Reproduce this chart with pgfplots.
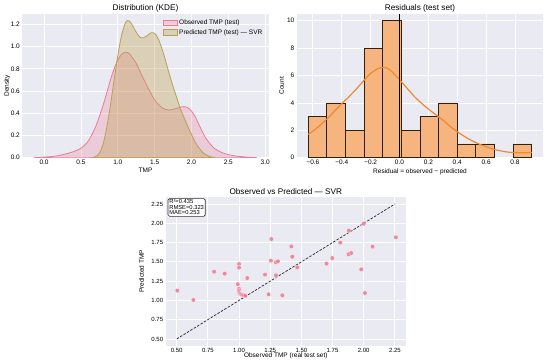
\documentclass[border=0pt]{standalone}
\usepackage{pgfplots}
\pgfplotsset{compat=1.18}
\usepackage{fontspec}
\setmainfont{Liberation Sans}
\definecolor{bg}{HTML}{EAEAF2}
\definecolor{obs}{HTML}{EC7B96}
\definecolor{pred}{HTML}{B8A055}
\definecolor{predfill}{HTML}{BFA24A}
\definecolor{barfill}{HTML}{F6B47E}
\definecolor{kdeor}{HTML}{EF8A30}
\definecolor{pk}{HTML}{EE7890}
\pgfplotsset{
  sb/.style={
    scale only axis,
    axis background/.style={fill=bg},
    axis line style={draw=none},
    grid=major,
    grid style={white, line width=0.8pt},
    major tick length=0pt,
    tick style={draw=none},
    /pgf/number format/assume math mode=true,
    ticklabel style={font=\fontsize{6.5}{7}\selectfont},
    xticklabel style={anchor=base, yshift=-7.3pt, inner sep=0pt},
    yticklabel style={anchor=east, xshift=-2.5pt, inner sep=0pt},
    every axis title/.style={at={(axis description cs:0.5,1)}, anchor=base, yshift=3.8pt, inner sep=0pt, font=\fontsize{8.2}{9}\selectfont},
  }
}
\begin{document}
\begin{tikzpicture}
\path[use as bounding box] (0pt,0pt) rectangle (550pt,-363pt);

% ---------- Top left: KDE ----------
\begin{axis}[sb,
  at={(22.5pt,-157.7pt)}, anchor=south west,
  width=246pt, height=143.7pt,
  xmin=-0.293, xmax=3.045, ymin=0, ymax=1.294,
  xtick={0,0.5,1,1.5,2,2.5,3}, xticklabels={0.0,0.5,1.0,1.5,2.0,2.5,3.0},
  ytick={0,0.2,0.4,0.6,0.8,1.0,1.2}, yticklabels={0.0,0.2,0.4,0.6,0.8,1.0,1.2},
  title={Distribution (KDE)},
  xlabel={TMP}, ylabel={Density},
  every axis x label/.style={at={(axis description cs:0.5,0)}, anchor=base, yshift=-15.3pt, inner sep=0pt, font=\fontsize{6.5}{7}\selectfont},
  every axis y label/.style={at={(axis description cs:-0.055,0.5)}, rotate=90, anchor=base, inner sep=0pt, font=\fontsize{6.5}{7}\selectfont},
  legend style={at={(0.572,0.967)}, anchor=north west, draw=none, fill=none, inner sep=0pt,
    row sep=1.2pt, font=\fontsize{6.5}{7}\selectfont, nodes={inner sep=1pt}},
  legend image code/.code={\draw[#1] (0pt,-2.6pt) rectangle (14pt,2.6pt);},
  legend cell align=left,
]
\addplot[draw=obs, line width=0.8pt, fill=obs, fill opacity=0.28, smooth, tension=0.4] coordinates {
(-0.14,0) (-0.05,0.003) (0.0,0.005) (0.1,0.01) (0.2,0.02) (0.3,0.035) (0.4,0.055) (0.5,0.085)
(0.6,0.15) (0.7,0.28) (0.8,0.47) (0.9,0.70) (0.95,0.80) (1.0,0.88) (1.05,0.93) (1.1,0.95)
(1.15,0.94) (1.2,0.90) (1.25,0.85) (1.3,0.78) (1.35,0.71) (1.4,0.64) (1.45,0.58) (1.5,0.52)
(1.55,0.48) (1.6,0.45) (1.65,0.435) (1.7,0.43) (1.75,0.435) (1.8,0.445) (1.85,0.455) (1.9,0.46)
(1.95,0.45) (2.0,0.42) (2.05,0.37) (2.1,0.30) (2.15,0.23) (2.2,0.17) (2.3,0.09) (2.4,0.05)
(2.5,0.028) (2.6,0.015) (2.7,0.008) (2.8,0.003) (2.89,0)
} \closedcycle;
\addlegendentry{Observed TMP (test)}
\addplot[draw=pred, line width=0.8pt, fill=predfill, fill opacity=0.35, smooth, tension=0.4] coordinates {
(0.65,0) (0.7,0.01) (0.75,0.04) (0.8,0.12) (0.85,0.27) (0.9,0.47) (0.95,0.70) (1.0,0.92)
(1.05,1.10) (1.1,1.21) (1.13,1.235) (1.16,1.23) (1.2,1.19) (1.25,1.13) (1.3,1.085) (1.35,1.08)
(1.4,1.10) (1.45,1.125) (1.5,1.12) (1.55,1.07) (1.6,0.98) (1.65,0.87) (1.7,0.75) (1.75,0.64)
(1.8,0.54) (1.85,0.44) (1.9,0.36) (1.95,0.28) (2.0,0.21) (2.05,0.14) (2.1,0.09) (2.15,0.05)
(2.2,0.025) (2.25,0.01) (2.32,0)
} \closedcycle;
\addlegendentry{Predicted TMP (test) — SVR}
\end{axis}

% ---------- Top right: residual histogram ----------
\begin{axis}[sb,
  at={(297pt,-157.7pt)}, anchor=south west,
  width=246pt, height=143.7pt,
  xmin=-0.71, xmax=0.994, ymin=0, ymax=10.49,
  xtick={-0.6,-0.4,-0.2,0,0.2,0.4,0.6,0.8}, xticklabels={−0.6,−0.4,−0.2,0.0,0.2,0.4,0.6,0.8},
  ytick={0,2,4,6,8,10}, yticklabels={0,2,4,6,8,10},
  title={Residuals (test set)},
  xlabel={Residual = observed − predicted}, ylabel={Count},
  every axis x label/.style={at={(axis description cs:0.5,0)}, anchor=base, yshift=-16.3pt, inner sep=0pt, font=\fontsize{6.5}{7}\selectfont},
  every axis y label/.style={at={(axis description cs:-0.053,0.5)}, rotate=90, anchor=base, inner sep=0pt, font=\fontsize{6.5}{7}\selectfont},
]
\addplot[ybar, bar width=0.1291, bar shift=0pt, fill=barfill, draw=black!75!brown, line width=0.8pt] coordinates {
(-0.5675,3) (-0.4385,4) (-0.3095,2) (-0.1805,8) (-0.0515,10) (0.0775,2) (0.2065,3) (0.3355,4)
(0.4645,1) (0.5935,1) (0.8515,1)
};
\addplot[kdeor, line width=1.2pt, smooth, tension=0.5] coordinates {
(-0.632,1.7) (-0.58,2.1) (-0.5,2.85) (-0.45,3.4) (-0.4,3.95) (-0.35,4.45) (-0.3,5.0) (-0.25,5.6)
(-0.2,6.15) (-0.15,6.5) (-0.11,6.6) (-0.08,6.5) (-0.05,6.25) (0.0,5.7) (0.05,5.1) (0.1,4.5)
(0.15,4.0) (0.2,3.55) (0.25,3.15) (0.3,2.75) (0.35,2.3) (0.4,1.9) (0.45,1.55) (0.5,1.25)
(0.55,1.0) (0.6,0.8) (0.65,0.62) (0.7,0.5) (0.75,0.41) (0.8,0.37) (0.85,0.36) (0.917,0.38)
};
\addplot[black, line width=0.8pt] coordinates {(0,0) (0,10.49)};
\end{axis}

% ---------- Bottom: observed vs predicted ----------
\begin{axis}[sb,
  at={(165.8pt,-345.7pt)}, anchor=south west,
  width=240pt, height=148.4pt,
  xmin=0.4125, xmax=2.3375, ymin=0.4125, ymax=2.3375,
  xtick={0.5,0.75,1,1.25,1.5,1.75,2,2.25}, xticklabels={0.50,0.75,1.00,1.25,1.50,1.75,2.00,2.25},
  ytick={0.5,0.75,1,1.25,1.5,1.75,2,2.25}, yticklabels={0.50,0.75,1.00,1.25,1.50,1.75,2.00,2.25},
  ticklabel style={font=\fontsize{6}{7}\selectfont},
  xticklabel style={yshift=0.8pt},
  title={Observed vs Predicted — SVR},
  every axis title/.style={at={(axis description cs:0.5,1)}, anchor=base, yshift=2.6pt, inner sep=0pt, font=\fontsize{8.2}{9}\selectfont},
  xlabel={Observed TMP (real test set)}, ylabel={Predicted TMP},
  every axis x label/.style={at={(axis description cs:0.5,0)}, anchor=base, yshift=-12pt, inner sep=0pt, font=\fontsize{6.5}{7}\selectfont},
  every axis y label/.style={at={(axis description cs:-0.091,0.5)}, rotate=90, anchor=base, inner sep=0pt, font=\fontsize{6.5}{7}\selectfont},
]
\addplot[black!85, line width=0.7pt, dash pattern=on 2.5pt off 1.5pt] coordinates {(0.5,0.5) (2.25,2.25)};
\addplot[only marks, mark=*, mark size=2.3pt, mark options={fill=pk, draw=white, line width=0.3pt, fill opacity=0.85, draw opacity=0.85}] coordinates {
(0.505,1.127) (0.634,1.006) (0.80,1.373) (0.885,1.347) (0.99,1.21) (1.0,1.472) (1.0,1.425)
(1.0,1.15) (1.0,1.13) (1.0,1.11) (1.005,1.095) (1.01,1.085) (1.02,1.075) (1.03,1.07) (1.04,1.065) (1.05,1.06)
(1.066,1.29) (1.208,1.334) (1.237,1.079) (1.259,1.796) (1.256,1.516) (1.296,1.494) (1.312,1.507)
(1.296,1.325) (1.347,1.066) (1.419,1.70) (1.427,1.567) (1.467,1.429) (1.702,1.477) (1.748,1.55)
(1.812,1.749) (1.881,1.904) (2.00,1.995) (1.879,1.598) (1.90,1.615) (1.98,1.403) (2.01,1.096)
(2.071,1.697) (2.258,1.818)
};
\node[draw=black!80, fill=white, rounded corners=1.5pt, align=left, anchor=north west,
  font=\fontsize{5.8}{5.5}\selectfont, inner sep=1.3pt, line width=0.6pt]
  at (rel axis cs:0.008,0.993) {R²=0.435\\RMSE=0.323\\MAE=0.253};
\end{axis}
\end{tikzpicture}
\end{document}
